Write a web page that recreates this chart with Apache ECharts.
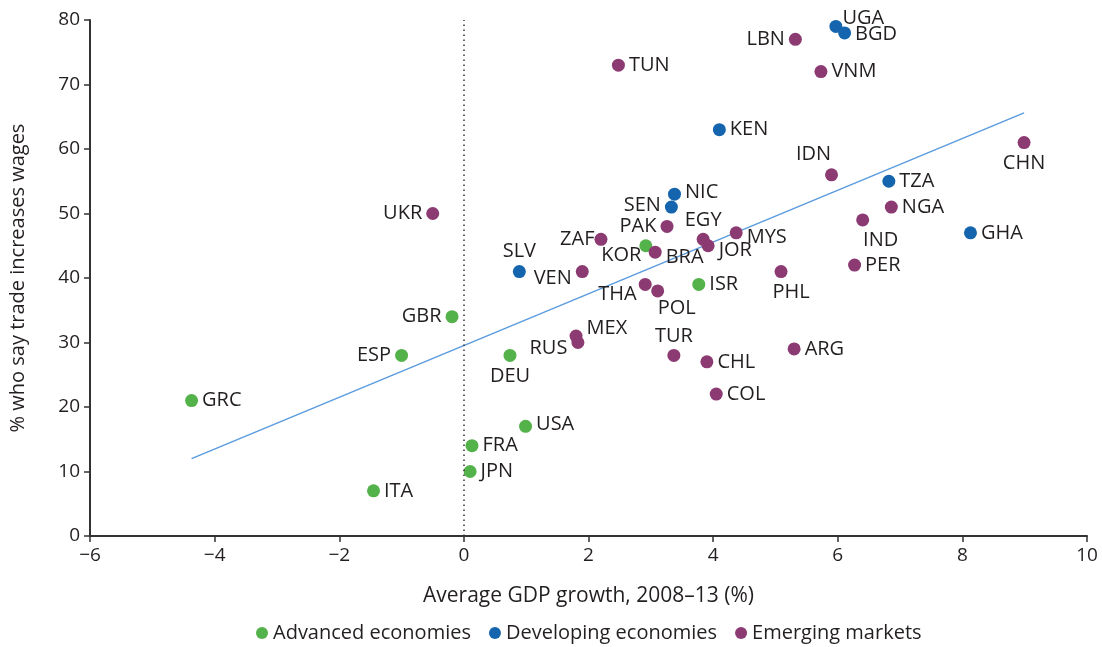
<!DOCTYPE html>
<html>
<head>
<meta charset="utf-8">
<script src="https://cdn.jsdelivr.net/npm/echarts@6/dist/echarts.min.js"></script>
<style>
html,body{margin:0;padding:0;background:#fff;}
#chart{width:1102px;height:647px;}
</style>
</head>
<body>
<div id="chart"></div>
<script>
// ---- data ----
const advancedNames = ['GRC','ITA','ESP','GBR','DEU','FRA','JPN','USA','KOR','ISR'];
const advancedX = [-4.37,-1.45,-1.0,-0.19,0.74,0.13,0.10,0.99,2.92,3.77];
const advancedY = [21,7,28,34,28,14,10,17,45,39];

const developingNames = ['SLV','NIC','SEN','KEN','UGA','BGD','TZA','GHA'];
const developingX = [0.89,3.38,3.33,4.10,5.97,6.11,6.82,8.13];
const developingY = [41,53,51,63,79,78,55,47];

const emergingNames = ['UKR','TUN','LBN','VNM','ZAF','PAK','EGY','JOR','MYS','BRA','VEN','THA','POL','PHL','IDN','CHN','NGA','IND','PER','ARG','MEX','RUS','TUR','CHL','COL'];
const emergingX = [-0.50,2.48,5.32,5.73,2.20,3.26,3.84,3.92,4.37,3.07,1.90,2.91,3.11,5.09,5.90,8.99,6.86,6.40,6.27,5.30,1.80,1.83,3.37,3.90,4.05];
const emergingY = [50,73,77,72,46,48,46,45,47,44,41,39,38,41,56,61,51,49,42,29,31,30,28,27,22];

const trendX = [-4.37, 8.99];
const trendY = [12.0, 65.6];

const xTicks = [-6,-4,-2,0,2,4,6,8,10];
const yTicks = [0,10,20,30,40,50,60,70,80];

const seriesNames = ['Advanced economies','Developing economies','Emerging markets'];

// ---- layout of labels (position, offset) ----
const labelLayout = {
  GRC:['right',[0,0]], ITA:['right',[0,0]], ESP:['left',[0,0]], GBR:['left',[0,0]],
  DEU:['bottom',[0,0]], FRA:['right',[0,0]], JPN:['right',[0,0]], USA:['right',[0,-2]],
  KOR:['left',[6,10]], ISR:['right',[0,0]],
  SLV:['top',[0,0]], NIC:['right',[0,-2]], SEN:['left',[0,-2]], KEN:['right',[0,0]],
  UGA:['right',[-4,-8]], BGD:['right',[0,1]], TZA:['right',[0,0]], GHA:['right',[0,0]],
  UKR:['left',[0,0]], TUN:['right',[0,0]], LBN:['left',[0,0]], VNM:['right',[0,0]],
  ZAF:['left',[4,0]], PAK:['left',[0,0]], EGY:['top',[0,1]], JOR:['right',[0,5]],
  MYS:['right',[0,4]], BRA:['right',[0,5]], VEN:['left',[0,7]], THA:['left',[2,10]],
  POL:['bottom',[19,-3]], PHL:['bottom',[10,0]], IDN:['top',[-18,0]], CHN:['bottom',[0,0]],
  NGA:['right',[0,0]], IND:['bottom',[18,0]], PER:['right',[0,0]], ARG:['right',[0,0]],
  MEX:['right',[0,-8]], RUS:['left',[0,6]], TUR:['top',[0,1]], CHL:['right',[0,0]], COL:['right',[0,0]]
};

const colors = ['#54b24a','#1565ae','#8b3a72'];
const textColor = '#231f20';
const fontFamily = '"Open Sans", sans-serif';

function buildData(names, xs, ys){
  return names.map((n,i)=>{
    const l = labelLayout[n] || ['right',[0,0]];
    return {name:n, value:[xs[i], ys[i]], label:{position:l[0], offset:l[1]}};
  });
}

function scatter(idx, names, xs, ys){
  return {
    name: seriesNames[idx],
    type:'scatter',
    symbolSize:13,
    itemStyle:{color:colors[idx], opacity:1},
    data: buildData(names, xs, ys),
    label:{show:true, formatter:p=>p.name, color:textColor, fontSize:20, fontFamily:fontFamily, distance:4},
    emphasis:{disabled:true},
    z:3
  };
}

const chart = echarts.init(document.getElementById('chart'), null, {renderer:'canvas'});
chart.setOption({
  animation:false,
  backgroundColor:'#fff',
  grid:{left:89, right:15, top:20, bottom:111, containLabel:false},
  legend:{
    bottom:-1, left:251,
    data:seriesNames,
    icon:'circle', itemWidth:12, itemHeight:12, itemGap:18,
    textStyle:{color:textColor, fontSize:20, fontFamily:fontFamily}
  },
  xAxis:{
    type:'value', min:xTicks[0], max:xTicks[xTicks.length-1], interval:2,
    name:'Average GDP growth, 2008–13 (%)', nameLocation:'middle', nameGap:50,
    nameTextStyle:{color:textColor, fontSize:21, fontFamily:fontFamily},
    axisLine:{show:true, onZero:false, lineStyle:{color:'#333', width:2}},
    axisTick:{show:true, length:6, lineStyle:{color:'#333', width:1.5}},
    axisLabel:{color:textColor, fontSize:19, fontFamily:fontFamily, margin:10,
      formatter:v=>v<0?'\u2212'+Math.abs(v):String(v)},
    splitLine:{show:false}
  },
  yAxis:{
    type:'value', min:yTicks[0], max:yTicks[yTicks.length-1], interval:10,
    name:'% who say trade increases wages', nameLocation:'middle', nameGap:62,
    nameTextStyle:{color:textColor, fontSize:20, fontFamily:fontFamily},
    axisLine:{show:true, onZero:false, lineStyle:{color:'#333', width:2}},
    axisTick:{show:true, length:6, lineStyle:{color:'#333', width:1.5}},
    axisLabel:{color:textColor, fontSize:19, fontFamily:fontFamily, margin:10},
    splitLine:{show:false}
  },
  series:[
    {
      name:'trend', type:'line', symbol:'none', silent:true,
      data: trendX.map((x,i)=>[x, trendY[i]]),
      lineStyle:{color:'#5b9bde', width:1.5},
      z:1,
      markLine:{
        silent:true, symbol:'none', label:{show:false},
        lineStyle:{color:'#333', type:[1.5,3.5], width:1.5},
        data:[[{coord:[0, yTicks[0]]},{coord:[0, yTicks[yTicks.length-1]]}]]
      }
    },
    scatter(0, advancedNames, advancedX, advancedY),
    scatter(1, developingNames, developingX, developingY),
    scatter(2, emergingNames, emergingX, emergingY)
  ]
});
</script>
</body>
</html>
